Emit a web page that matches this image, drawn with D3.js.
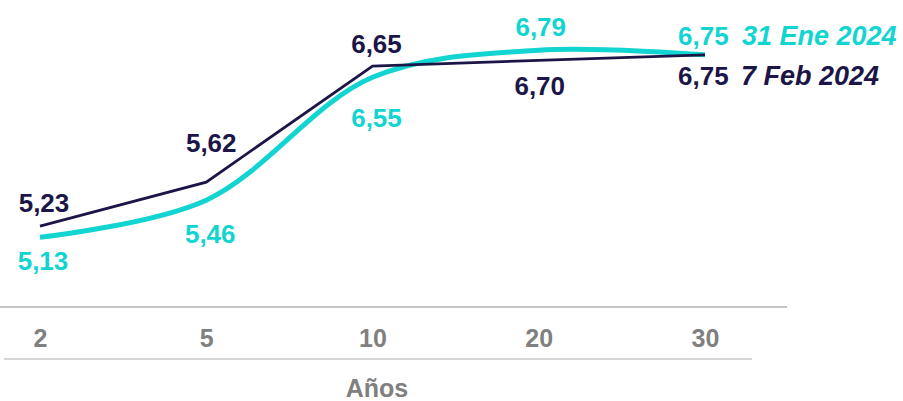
<!DOCTYPE html>
<head>
<meta charset="utf-8">
<title>Curva - Años</title>
<script type="text/javascript" src="https://d3js.org/d3.v7.min.js"></script>
<style>
body { margin: 0; background: #fff; }
svg text { font-family: "Liberation Sans", Arial, sans-serif; font-weight: bold; }
</style>
</head>
<body>
<div id="container"></div>
<script>
//*******************
// data
//*******************
const plazos = ["2", "5", "10", "20", "30"];
const feb7 = [5.23, 5.62, 6.65, 6.70, 6.75];
const ene31 = [5.13, 5.46, 6.55, 6.79, 6.75];
const serieFeb = "7 Feb 2024";
const serieEne = "31 Ene 2024";
const ejeTitulo = "Años";

//*******************
// setup svg
//*******************
const width = 903;
const height = 401;
const navy = "#1b1647";
const cyan = "#12d4d0";
const grey = "#808080";

const svg = d3.select("div#container").append("svg")
    .attr("width", width)
    .attr("height", height);

const xScale = d3.scalePoint().domain(plazos).range([40, 705]);
const yScale = d3.scaleLinear().domain([5, 7]).range([252, 26.6]);

const fmt = v => d3.format(".2f")(v).replace(".", ",");

//*******************
// axis lines + labels
//*******************
svg.append("line")
    .attr("x1", 0).attr("x2", 787)
    .attr("y1", 307).attr("y2", 307)
    .attr("stroke", "#8c8c8c").attr("stroke-width", 1.2);

svg.append("line")
    .attr("x1", 4).attr("x2", 752)
    .attr("y1", 359).attr("y2", 359)
    .attr("stroke", "#b0b0b0").attr("stroke-width", 1.2);

const xaxis = d3.axisBottom(xScale).tickSize(0).tickPadding(0);
const gx = svg.append("g")
    .attr("transform", "translate(0,331)")
    .call(xaxis);
gx.select(".domain").remove();
gx.selectAll("text")
    .attr("dy", 0)
    .attr("y", 16)
    .attr("fill", grey)
    .style("font-size", "25px")
    .style("font-weight", "bold");

svg.append("text")
    .attr("x", 377).attr("y", 397)
    .attr("text-anchor", "middle")
    .attr("fill", grey)
    .style("font-size", "25px")
    .text(ejeTitulo);

//*******************
// lines
//*******************
const lineFeb = d3.line()
    .x((d, i) => xScale(plazos[i]))
    .y(d => yScale(d));

const lineEne = d3.line()
    .x((d, i) => xScale(plazos[i]))
    .y(d => yScale(d))
    .curve(d3.curveCatmullRom.alpha(0.5));

svg.append("path")
    .attr("d", lineEne(ene31))
    .attr("fill", "none")
    .attr("stroke", cyan)
    .attr("stroke-width", 5);

svg.append("path")
    .attr("d", lineFeb(feb7))
    .attr("fill", "none")
    .attr("stroke", navy)
    .attr("stroke-width", 2.8);

//*******************
// value labels
//*******************
// offsets per point: [dx, dy] from the point
const febOff = [[4, -14], [5, -30], [4, -13], [1, 35], [-27, 30]];
const eneOff = [[3, 33], [4, 43], [4, 50], [2, -14], [-27, -10]];

svg.selectAll(".lblFeb")
    .data(feb7)
    .enter().append("text")
    .attr("class", "lblFeb")
    .attr("x", (d, i) => xScale(plazos[i]) + febOff[i][0])
    .attr("y", (d, i) => yScale(d) + febOff[i][1])
    .attr("text-anchor", (d, i) => i === 4 ? "start" : "middle")
    .attr("fill", navy)
    .style("font-size", "26px")
    .text(fmt);

svg.selectAll(".lblEne")
    .data(ene31)
    .enter().append("text")
    .attr("class", "lblEne")
    .attr("x", (d, i) => xScale(plazos[i]) + eneOff[i][0])
    .attr("y", (d, i) => yScale(d) + eneOff[i][1])
    .attr("text-anchor", (d, i) => i === 4 ? "start" : "middle")
    .attr("fill", cyan)
    .style("font-size", "26px")
    .text(fmt);

//*******************
// series names
//*******************
svg.append("text")
    .attr("x", 742).attr("y", yScale(ene31[4]) - 10)
    .attr("fill", cyan)
    .style("font-size", "27px")
    .style("font-style", "italic")
    .text(serieEne);

svg.append("text")
    .attr("x", 741).attr("y", yScale(feb7[4]) + 30)
    .attr("fill", navy)
    .style("font-size", "27px")
    .style("font-style", "italic")
    .text(serieFeb);
</script>
</body>
